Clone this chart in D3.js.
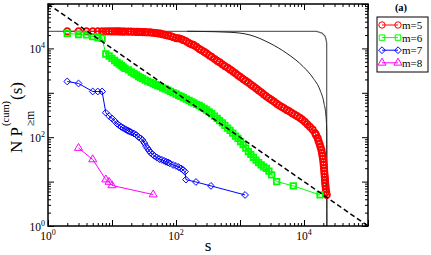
<!DOCTYPE html>
<html>
<head>
<meta charset="utf-8">
<script src="https://cdn.jsdelivr.net/npm/d3@7"></script>
<style>
  body { margin: 0; background: #fff; }
  svg { display: block; }
</style>
</head>
<body>
<div id="chart-area"></div>
<script>
// Datos: pares [s, N P(s)]
var m5 = [[2,24300],[3,24300],[4,24300],[5,24300],[6,24300],[7,24300],[8,24300],[9,24300],
  [10,24200],[11,24200],[12,24100],[13,24100],[14,24000],[15,24000],[16,24000],[18,23900],
  [20,23800],[22,23700],[24,23600],[26,23500],[28,23400],[30,23300],[33,23200],[36,23100],
  [40,23000],[44,22500],[48,22200],[52,21900],[57,21600],[62,20800],[68,20100],[75,19500],
  [82,19000],[90,18070],[100,17100],[110,16900],[120,16300],[130,15450],[145,14450],[160,13200],
  [175,12400],[190,11800],[210,10800],[230,9800],[250,9100],[275,8400],[300,7700],[330,7000],
  [360,6430],[400,5780],[440,5250],[480,4880],[530,4390],[580,3990],[640,3670],[700,3350],
  [770,3050],[850,2730],[930,2480],[1020,2250],[1120,2040],[1230,1850],[1350,1690],[1480,1530],
  [1620,1390],[1780,1260],[1950,1130],[2140,1030],[2350,920],[2580,830],[2830,755],[3100,690],
  [3400,630],[3730,570],[4090,520],[4490,480],[4920,445],[5400,410],[5920,380],[6500,350],
  [7130,322],[7820,298],[8580,274],[9400,250],[10300,223],[11300,195],[12400,170],[13600,149],
  [14900,124],[15400,112],[16320,96],[16870,82],[17540,70],[18120,60],[18700,51.5],[19100,44],
  [19450,37.7],[19820,32.3],[20100,27.6],[20320,23.7],[20540,20.2],[20700,17.3],[20900,14.8],
  [21130,12.7],[21280,10.9],[21430,9.3],[21680,8],[21930,6.8],[22240,5.8],[22650,5]];

var m6 = [[2,21880],[3,20560],[4,20230],[5,18360],[6,17590],[7,16870],[8,7480],[9,6740],
  [10,5930],[11,5340],[12,4810],[13,4450],[14,4120],[15,3810],[16,3560],[18,3265],[20,2940],
  [22,2720],[24,2520],[26,2330],[28,2190],[30,2080],[33,1940],[36,1825],[40,1723],[44,1620],
  [48,1530],[52,1453],[57,1372],[62,1297],[68,1219],[75,1145],[82,1081],[90,1011],[100,940],
  [110,879],[120,826],[130,780],[145,718],[160,671],[175,627],[190,593],[210,551],[230,518],
  [250,484],[275,445],[300,410],[330,371],[360,340],[400,300],[440,264],[480,237],[530,209],
  [580,185],[640,161],[700,142],[770,124],[850,106],[930,94],[1020,80],[1120,68.5],[1230,57],
  [1350,47.6],[1480,40.8],[1620,35.3],[1780,30.6],[1950,26.9],[2140,23.9],[2350,21.5],
  [2580,19.9],[2830,17.3],[3130,14.1],[3740,10],[6810,8],[17800,5]];

var m7 = [[2,1800],[3,1620],[5,1070],[6,1070],[7,1070],[8,356],[9,300],[10,264],[11,232],
  [12,202],[13,184],[14,170],[15,161],[16,153],[17,145],[18,139],[19,134],[20,129],[22,121],
  [24,112],[26,101],[28,94],[30,86],[32,74],[34,63],[36,56],[38,50],[40,45],[43,41],[46,38],
  [50,35],[55,32],[60,31],[65,29.4],[70,28],[75,27],[80,25.8],[90,23.7],[100,22.5],[110,21.1],
  [120,19.9],[130,18.2],[138,16.7],[143,11.1],[205,9.8],[352,8],[1200,5]];

var m8 = [[3,57],[5,31.5],[8,11.1],[9,9.8],[10,8.2],[44,5.1]];

// Curvas negras de referencia
var stepLine = [[1,24300],[15800,24300],[19100,22200],[21300,19000],[22200,15500],[22600,13200],[22600,1]];
var bentLine = [[150,24300],[237,24100],[698,23070],[1430,20040],[2940,13030],[5370,7760],
  [9750,3870],[13960,2120],[17780,1160],[20540,581],[22080,290],[22650,145],[22860,1]];
var guide = [[1,100000],[100000,1]];

// Ejes
var majorTicks = [1,10,100,1000,10000,100000];
var labelTicks = [1,100,10000];
var labelExp = ["0","2","4"];
var legendNames = ["m=5","m=6","m=7","m=8"];

var series = [
  {data: m5, color: "#ff0000", shape: "circle", sw: 1.8},
  {data: m6, color: "#00ff00", shape: "square", sw: 1.8},
  {data: m7, color: "#0000ff", shape: "diamond", sw: 1},
  {data: m8, color: "#ff00ff", shape: "triangle", sw: 1}
];

var serif = "'Liberation Serif', Tinos, 'Noto Serif', 'DejaVu Serif', 'Liberation Sans', sans-serif";

var svg = d3.select("#chart-area").append("svg")
    .attr("width", 431)
    .attr("height", 255)
    .attr("font-family", serif);

var x = d3.scaleLog().domain([1, 1e5]).range([48, 368]);
var y = d3.scaleLog().domain([1, 1e5]).range([226, 4]);

// Ticks menores 2..9 x 10^k
var minorTicks = [];
for (let k = 0; k < 5; k++) {
    for (let m = 2; m < 10; m++) minorTicks.push(m * Math.pow(10, k));
}

function ticks(axis, tr, vals, size) {
    var g = svg.append("g").attr("transform", tr)
        .call(axis.tickValues(vals).tickSize(size).tickFormat(""));
    g.select(".domain").remove();
    g.selectAll("line").attr("stroke", "#000").attr("stroke-width", 1);
}
ticks(d3.axisBottom(x), "translate(0,226)", majorTicks, -6);
ticks(d3.axisBottom(x), "translate(0,226)", minorTicks, -3);
ticks(d3.axisTop(x), "translate(0,4)", majorTicks, -6);
ticks(d3.axisTop(x), "translate(0,4)", minorTicks, -3);
ticks(d3.axisLeft(y), "translate(48,0)", majorTicks, -6);
ticks(d3.axisLeft(y), "translate(48,0)", minorTicks, -3);
ticks(d3.axisRight(y), "translate(368,0)", majorTicks, -6);
ticks(d3.axisRight(y), "translate(368,0)", minorTicks, -3);

function txt(parent) {
    return parent.append("text").attr("font-family", serif);
}

// Etiquetas 10^n
labelTicks.forEach(function(v, i) {
    var t = txt(svg).attr("x", x(v)).attr("y", 240)
        .attr("text-anchor", "middle").attr("font-size", 11.5);
    t.append("tspan").text("10");
    t.append("tspan").attr("font-size", 8).attr("dy", -5).text(labelExp[i]);

    var u = txt(svg).attr("x", 45).attr("y", y(v) + 4.5)
        .attr("text-anchor", "end").attr("font-size", 11.5);
    u.append("tspan").text("10");
    u.append("tspan").attr("font-size", 8).attr("dy", -5).text(labelExp[i]);
});

// Curvas negras
var line = d3.line().x(d => x(d[0])).y(d => y(d[1]));
svg.append("path").attr("d", line(stepLine))
    .attr("fill", "none").attr("stroke", "#666").attr("stroke-width", 1.3);
svg.append("path").attr("d", line.curve(d3.curveMonotoneX)(bentLine))
    .attr("fill", "none").attr("stroke", "#222").attr("stroke-width", 1);
line.curve(d3.curveLinear);

// Símbolos
function symbolPath(shape) {
    if (shape == "circle") return d3.symbol(d3.symbolCircle, 32)();
    if (shape == "square") return d3.symbol(d3.symbolSquare, 30)();
    if (shape == "triangle") return d3.symbol(d3.symbolTriangle, 28)();
    return "M0,-3.4L3.4,0L0,3.4L-3.4,0Z";
}

series.forEach(function(s) {
    svg.append("path").attr("d", line(s.data))
        .attr("fill", "none").attr("stroke", s.color).attr("stroke-width", 1);
    svg.append("g").selectAll("path").data(s.data).enter().append("path")
        .attr("transform", d => "translate(" + x(d[0]) + "," + y(d[1]) + ")")
        .attr("d", symbolPath(s.shape))
        .attr("fill", "none").attr("stroke", s.color).attr("stroke-width", s.sw);
});

// Línea discontinua
svg.append("path").attr("d", line(guide))
    .attr("fill", "none").attr("stroke", "#000").attr("stroke-width", 1.5)
    .attr("stroke-dasharray", "5,3");

// Marco
svg.append("rect").attr("x", 48).attr("y", 4).attr("width", 320).attr("height", 222)
    .attr("fill", "none").attr("stroke", "#000").attr("stroke-width", 1.5);

// Título eje x
txt(svg).attr("x", 208).attr("y", 251).attr("text-anchor", "middle")
    .attr("font-size", 17).text("s");

// Título eje y (rotado)
var yt = svg.append("g").attr("transform", "translate(22,0) rotate(-90)");
var start = -153;
var np = txt(yt).attr("x", start).attr("y", 0).attr("font-size", 17).text("N P");
var p1 = start + np.node().getComputedTextLength() + 1;
var sup = txt(yt).attr("x", p1).attr("y", -13).attr("font-size", 10.5).text("(cum)");
var sub = txt(yt).attr("x", p1).attr("y", 12).attr("font-size", 11.5).text("\u2265m");
var p2 = p1 + Math.max(sup.node().getComputedTextLength(), sub.node().getComputedTextLength()) + 1;
txt(yt).attr("x", p2).attr("y", 0).attr("font-size", 17).text("(s)");

// Leyenda
svg.append("rect").attr("x", 377).attr("y", 17).attr("width", 51).attr("height", 55)
    .attr("fill", "#fff").attr("stroke", "#000").attr("stroke-width", 1);
series.forEach(function(s, i) {
    var ly = 25 + i * 12.6;
    svg.append("line").attr("x1", 382).attr("x2", 398).attr("y1", ly).attr("y2", ly)
        .attr("stroke", s.color).attr("stroke-width", 1);
    [382, 398].forEach(function(px) {
        svg.append("path").attr("transform", "translate(" + px + "," + ly + ")")
            .attr("d", symbolPath(s.shape))
            .attr("fill", "none").attr("stroke", s.color).attr("stroke-width", 1);
    });
    txt(svg).attr("x", 402).attr("y", ly + 4).attr("font-size", 11)
        .text(legendNames[i]);
});

// Etiqueta del panel
txt(svg).attr("x", 401).attr("y", 11).attr("text-anchor", "middle")
    .attr("font-size", 10.5).attr("font-weight", "bold").text("(a)");
</script>
</body>
</html>
